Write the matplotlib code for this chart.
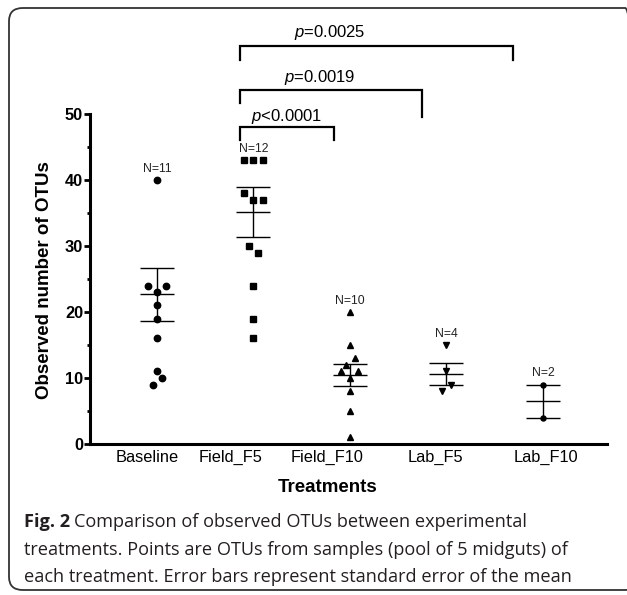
import numpy as np
import matplotlib
matplotlib.use('Agg')
import matplotlib.pyplot as plt
from matplotlib.patches import FancyBboxPatch

# values
groups = ['Baseline', 'Field_F5', 'Field_F10', 'Lab_F5', 'Lab_F10']
baseline = [40, 24, 24, 23, 21, 19, 16, 11, 10, 9]
field_f5 = [43, 43, 43, 38, 37, 37, 30, 29, 24, 19, 16]
field_f10 = [20, 15, 13, 12, 11, 11, 10, 8, 5, 1]
lab_f5 = [15, 11, 9, 8]
lab_f10 = [9, 4]
n_labels = ['N=11', 'N=12', 'N=10', 'N=4', 'N=2']
means = [22.7, 35.2, 10.45, 10.6, 6.5]
sems = [4.0, 3.8, 1.65, 1.6, 2.5]
p_labels = [r'$\it{p}$<0.0001', r'$\it{p}$=0.0019', r'$\it{p}$=0.0025']

# layout only: horizontal scatter of overlapping points
jitter = [
    [0, -0.095, 0.095, 0, 0, 0, 0, 0, 0.05, -0.045],
    [-0.1, 0, 0.1, -0.095, 0, 0.095, -0.05, 0.05, 0, 0, 0],
    [0, 0, 0.05, -0.045, -0.09, 0.085, 0, 0, 0, 0],
    [0, 0, 0.045, -0.05],
    [0, 0],
]
markers = ['o', 's', '^', 'v', 'o']
msizes = [4.6, 4.6, 4.6, 4.6, 3.6]
label_shift = [-0.10, -0.24, -0.24, -0.11, 0.03]

plt.rcParams['font.family'] = ['Liberation Sans', 'DejaVu Sans']
plt.rcParams['mathtext.fontset'] = 'custom'
plt.rcParams['mathtext.it'] = 'Liberation Sans:italic'
plt.rcParams['mathtext.rm'] = 'Liberation Sans'

fig = plt.figure(figsize=(6.27, 5.95), dpi=100)
ax = fig.add_axes([0.1435, 0.2538, 0.8246, 0.5546])

data = [baseline, field_f5, field_f10, lab_f5, lab_f10]
for i, vals in enumerate(data):
    xs = i + np.array(jitter[i])
    ax.plot(xs, vals, linestyle='none', marker=markers[i], ms=msizes[i],
            color='black', clip_on=False, zorder=3)
    ax.errorbar(i, means[i], yerr=sems[i], fmt='_', ms=24, mew=1.0,
                color='black', ecolor='black', elinewidth=1.0,
                capsize=12, capthick=1.0, zorder=2)
    ax.annotate(n_labels[i], (i, max(vals)), xytext=(0, 8),
                textcoords='offset points', ha='center', va='center',
                fontsize=8.8, color='#222222')

ax.set_xlim(-0.694, 4.663)
ax.set_ylim(0, 50)
ax.spines['top'].set_visible(False)
ax.spines['right'].set_visible(False)
ax.spines['left'].set_linewidth(2.2)
ax.spines['bottom'].set_linewidth(2.2)

ax.set_xticks(np.arange(len(groups)) + np.array(label_shift))
ax.set_xticklabels(groups, fontsize=11.8)
ax.tick_params(axis='x', length=0, pad=4)
ax.set_yticks(np.arange(0, 51, 10))
ax.set_yticks(np.arange(5, 50, 10), minor=True)
ax.tick_params(axis='y', which='major', length=4, width=2, labelsize=11.8, pad=1)
ax.tick_params(axis='y', which='minor', length=2.5, width=2)
for t in ax.get_yticklabels():
    t.set_fontweight('bold')

# significance brackets (left x, right x, top y, left leg end, right leg end, text x, text y)
brackets = [
    (0.86, 1.83, 48.0, 46.1, 46.1, 1.34, 49.6),
    (0.86, 2.75, 53.6, 51.7, 49.5, 1.69, 55.5),
    (0.86, 3.69, 60.3, 58.2, 58.2, 1.79, 62.3),
]
for (x0, x1, yt, yl, yr, tx, ty), lab in zip(brackets, p_labels):
    ax.plot([x0, x0, x1, x1], [yl, yt, yt, yr], color='black', lw=1.6,
            clip_on=False, solid_joinstyle='miter')
    ax.text(tx, ty, lab, ha='center', va='center', fontsize=12)

fig.text(327.5 / 627, 1 - 488 / 595, 'Treatments', ha='center', va='center',
         fontsize=13.5, fontweight='bold')
fig.text(45 / 627, 1 - 280 / 595, 'Observed number of OTUs', ha='center',
         va='center', rotation=90, fontsize=13.5, fontweight='bold')

# caption
cap_color = '#231f20'
cap_font = 'Open Sans'
cap_size = 13.1
x0 = 24 / 627
t = fig.text(x0, 1 - 522 / 595, 'Fig. 2', ha='left', va='center',
             fontsize=cap_size, fontweight='bold', family=cap_font, color=cap_color)
fig.canvas.draw()
bb = t.get_window_extent()
fig.text(bb.x1 / 627 + 0.006, 1 - 522 / 595,
         'Comparison of observed OTUs between experimental',
         ha='left', va='center', fontsize=cap_size, family=cap_font, color=cap_color)
fig.text(x0, 1 - 550 / 595,
         'treatments. Points are OTUs from samples (pool of 5 midguts) of',
         ha='left', va='center', fontsize=cap_size, family=cap_font, color=cap_color)
fig.text(x0, 1 - 577 / 595,
         'each treatment. Error bars represent standard error of the mean',
         ha='left', va='center', fontsize=cap_size, family=cap_font, color=cap_color)

frame = FancyBboxPatch((9 / 627, 5 / 595), 630 / 627, 582 / 595,
                       boxstyle='round,pad=0,rounding_size=0.022',
                       transform=fig.transFigure, fill=False,
                       edgecolor='#333333', lw=1.3, clip_on=False)
fig.patches.append(frame)

fig.savefig('out.png', dpi=100)
